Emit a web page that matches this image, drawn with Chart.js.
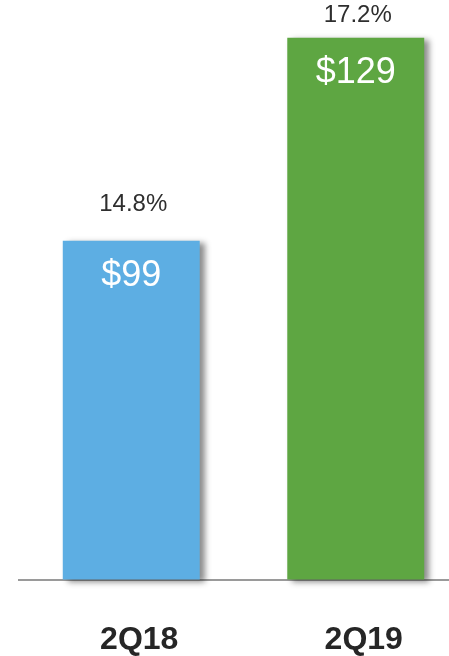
<!DOCTYPE html>
<html>
<head>
<meta charset="utf-8">
<script src="https://cdn.jsdelivr.net/npm/chart.js@4/dist/chart.umd.min.js"></script>
<style>
  html, body { margin: 0; padding: 0; background: #fff; overflow: hidden; }
  #wrap { width: 449px; height: 656px; overflow: hidden; }
</style>
</head>
<body>
<div id="wrap"><canvas id="myChart" width="468" height="700"></canvas></div>
<script>
// categories and values
var quarters = ["2Q18", "2Q19"];
var amounts = [99, 129];
var margins = ["14.8%", "17.2%"];
var amountLabels = ["$99", "$129"];
var barColors = ["#5daee3", "#5ea642"];
var axisMin = 48.9;
var axisMax = 134;

var ctx = document.getElementById("myChart");

// soft drop shadow to the right of each bar
var barShadow = {
    id: "barShadow",
    beforeDatasetsDraw: function (chart) {
        var c = chart.ctx;
        c.save();
        c.shadowColor = "rgba(0,0,0,0.45)";
        c.shadowBlur = 6;
        c.shadowOffsetX = 5;
        c.shadowOffsetY = 2;
    },
    afterDatasetsDraw: function (chart) {
        chart.ctx.restore();
    }
};

// $ value inside the bar, margin above it
var barText = {
    id: "barText",
    afterDatasetsDraw: function (chart, args, opts) {
        var c = chart.ctx;
        var bars = chart.getDatasetMeta(0).data;
        c.save();
        c.textAlign = "center";
        c.textBaseline = "middle";
        bars.forEach(function (bar, i) {
            c.fillStyle = "#ffffff";
            c.font = "36px 'Liberation Sans', Arial, sans-serif";
            c.fillText(amountLabels[i], bar.x, bar.y + 35);
            c.fillStyle = "#2e2e2e";
            c.font = "24px 'Liberation Sans', Arial, sans-serif";
            c.fillText(margins[i], bar.x + 2, bar.y - opts.above[i]);
        });
        c.restore();
    }
};

new Chart(ctx, {
    type: "bar",
    data: {
        labels: quarters,
        datasets: [{
            data: amounts,
            base: axisMin,
            backgroundColor: barColors,
            borderWidth: 0,
            barPercentage: 0.61,
            categoryPercentage: 1,
            clip: false
        }]
    },
    options: {
        responsive: false,
        animation: false,
        layout: { padding: { left: 19, top: 4, right: 0, bottom: 0 } },
        plugins: {
            legend: { display: false },
            tooltip: { enabled: false },
            barText: { above: [36, 22] }
        },
        scales: {
            y: { display: false, min: axisMin, max: axisMax },
            x: {
                grid: { display: false, drawTicks: false, tickLength: 0 },
                border: { display: true, color: "#9a9a9a", width: 2 },
                ticks: {
                    padding: 41,
                    labelOffset: 8,
                    color: "#262626",
                    font: { family: "'Liberation Sans', Arial, sans-serif", size: 32, weight: "bold" }
                }
            }
        }
    },
    plugins: [barShadow, barText]
});
</script>
</body>
</html>
